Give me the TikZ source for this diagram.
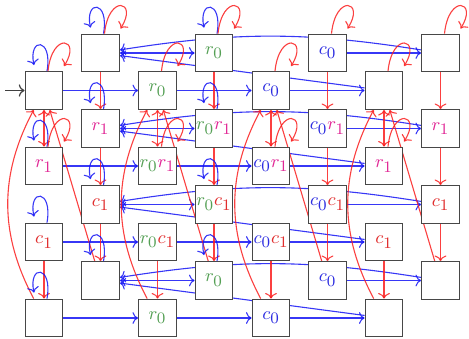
\documentclass[tikz,border=0pt]{standalone}
\usetikzlibrary{arrows.meta}
\definecolor{cRz}{RGB}{85,160,85}
\definecolor{cCz}{RGB}{45,45,225}
\definecolor{cRo}{RGB}{225,40,150}
\definecolor{cCo}{RGB}{225,45,45}
\definecolor{eB}{RGB}{20,20,245}
\definecolor{eR}{RGB}{250,30,30}
\newcommand{\sbx}[1]{\mbox{\fontsize{8}{8}\selectfont #1}}
\newcommand{\Rz}{\textcolor{cRz}{$r_{\sbx{0}}$}}
\newcommand{\Cz}{\textcolor{cCz}{$c_{\sbx{0}}$}}
\newcommand{\Ro}{\textcolor{cRo}{$r_{\sbx{1}}$}}
\newcommand{\Co}{\textcolor{cCo}{$c_{\sbx{1}}$}}
\pgfdeclarelayer{bg}
\pgfsetlayers{bg,main}
\begin{document}
\begin{tikzpicture}[x=0.5pt,y=-0.5pt,
  box/.style={draw=black!72, line width=0.65pt, fill=white, minimum size=18.75pt, inner sep=0pt, font=\fontsize{9}{10}\selectfont},
  bl/.style={draw=eB, draw opacity=0.85, line width=0.55pt, ->},
  rd/.style={draw=eR, draw opacity=0.85, line width=0.55pt, ->},
  ini/.style={draw=black!75, line width=0.6pt, ->}]
\useasboundingbox (0,0) rectangle (469,338);
\foreach \i/\x in {0/44,1/157.5,2/271,3/384}{
  \foreach \j/\y in {0/90.5,1/166,2/242,3/318}{
    \coordinate (pf\i\j) at (\x,\y);
    \coordinate (pb\i\j) at (\x+56.5,\y-37.5);
  }
}
\foreach \j/\a/\b/\c/\d in {0/{}/\Rz/\Cz/{},1/\Ro/\Rz\Ro/\Cz\Ro/\Ro,2/\Co/\Rz\Co/\Cz\Co/\Co,3/{}/\Rz/\Cz/{}}{
  \node[box] (b0\j) at (pb0\j) {\a};
  \node[box] (b1\j) at (pb1\j) {\b};
  \node[box] (b2\j) at (pb2\j) {\c};
  \node[box] (b3\j) at (pb3\j) {\d};
  \node[box] (f0\j) at (pf0\j) {\a};
  \node[box] (f1\j) at (pf1\j) {\b};
  \node[box] (f2\j) at (pf2\j) {\c};
  \node[box] (f3\j) at (pf3\j) {\d};
}
\begin{pgfonlayer}{bg}
\foreach \j in {0,...,3}{
  \draw[bl] (f0\j) -- (f1\j);
  \draw[bl] (f1\j) -- (f2\j);
  \draw[bl] (f2\j) -- (f3\j);
  \draw[bl,<->] (b0\j) -- (b1\j);
  \draw[bl] (b2\j) -- (b3\j);
  \draw[bl] (b3\j) to[bend right=9] (b0\j);
  \draw[bl] (f3\j) -- (b0\j);
}
\foreach \i in {0,...,3}{
  \draw[rd] (b\i0) -- (b\i1);
  \draw[rd] (b\i1) -- (b\i2);
  \draw[rd] (b\i2) -- (b\i3);
  \draw[rd,<->] (f\i0) -- (f\i1);
  \draw[rd] (f\i2) -- (f\i3);
  \draw[rd] (f\i3) to[bend left=28] (f\i0);
  \draw[rd] (b\i3) -- (f\i0);
}
\end{pgfonlayer}
% loops
\foreach \n in {f00,f01,f02,f03,b00,b01,b02,b03,b10,b11,b12,b13}{
  \draw[bl] ([xshift=1.5pt]\n.north) .. controls +(3pt,17pt) and +(-3pt,14pt) .. ([xshift=-5pt,yshift=3pt]\n.north);
}
\foreach \n in {f00,f10,f20,f30,f01,f11,f21,f31,b00,b10,b20,b30}{
  \draw[rd] ([xshift=2pt]\n.north) .. controls +(2pt,20pt) and +(9pt,14pt) .. ([xshift=10pt,yshift=2.5pt]\n.north);
}
\coordinate (st) at (5,90.5);
\draw[ini] (st) -- (f00);
\end{tikzpicture}
\end{document}
